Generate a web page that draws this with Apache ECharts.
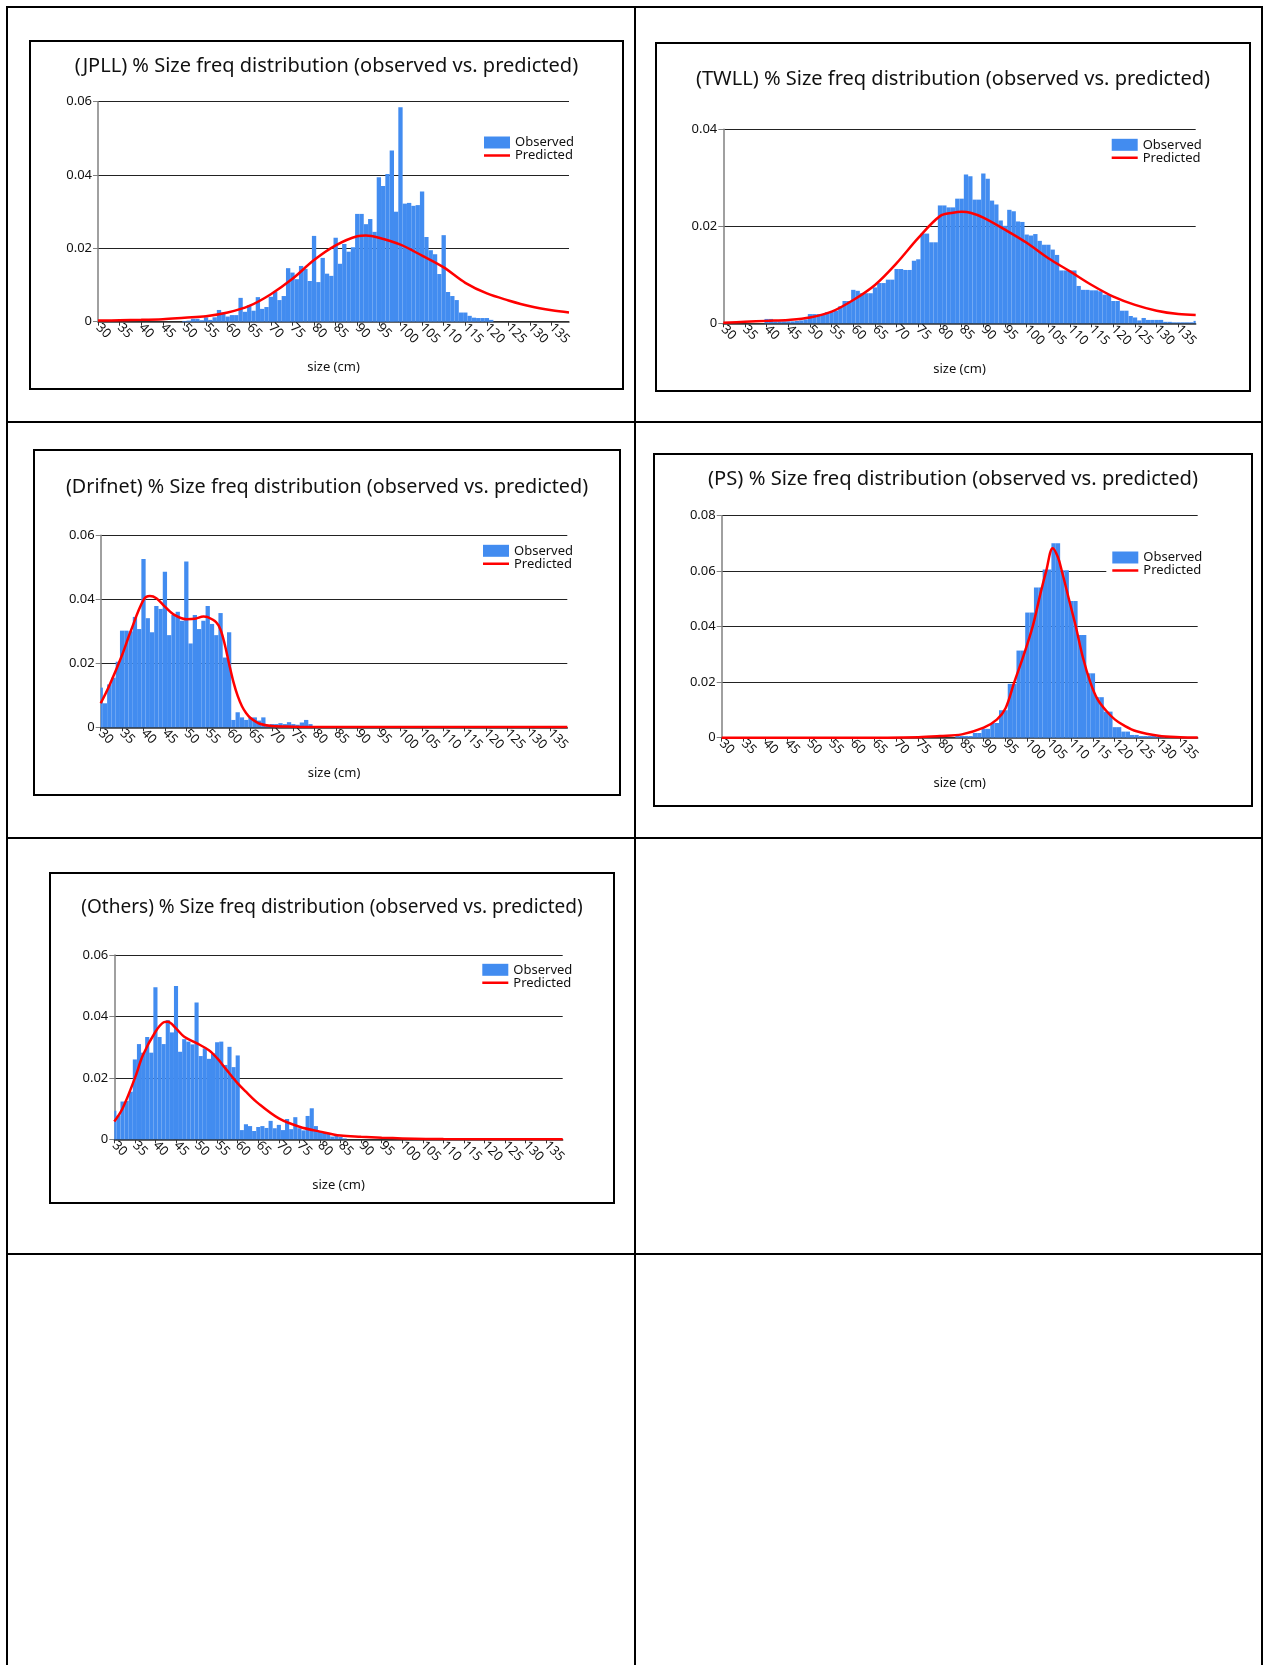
<!DOCTYPE html>
<html><head><meta charset="utf-8">
<script src="https://cdn.jsdelivr.net/npm/echarts@6/dist/echarts.min.js"></script>
<style>
html,body{margin:0;padding:0;background:#fff;}
body{width:1265px;height:1665px;position:relative;overflow:hidden;}
.ln{position:absolute;background:#000;}
.box{position:absolute;border:2px solid #000;box-sizing:border-box;}
.chart{position:absolute;}
</style></head><body>
<div class="ln" style="left:6px;top:6px;width:2px;height:1659px"></div>
<div class="ln" style="left:634px;top:6px;width:2px;height:1659px"></div>
<div class="ln" style="left:1261px;top:6px;width:2px;height:1659px"></div>
<div class="ln" style="left:6px;top:6px;width:1257px;height:2px"></div>
<div class="ln" style="left:6px;top:421px;width:1257px;height:2px"></div>
<div class="ln" style="left:6px;top:837px;width:1257px;height:2px"></div>
<div class="ln" style="left:6px;top:1253px;width:1257px;height:2px"></div>
<script>
// ---------- DATA ----------
const sizes = [30,31,32,33,34,35,36,37,38,39,40,41,42,43,44,45,46,47,48,49,50,51,52,53,54,55,56,57,58,59,
60,61,62,63,64,65,66,67,68,69,70,71,72,73,74,75,76,77,78,79,80,81,82,83,84,85,86,87,88,89,
90,91,92,93,94,95,96,97,98,99,100,101,102,103,104,105,106,107,108,109,110,111,112,113,114,115,116,117,118,119,
120,121,122,123,124,125,126,127,128,129,130,131,132,133,134,135,136,137,138,139];
const xTickLabels = [30,35,40,45,50,55,60,65,70,75,80,85,90,95,100,105,110,115,120,125,130,135];

const jpllObserved = [
0,0,0,0,0,0,0,0,0,0,
0,0,0,0,0,0,0,0,0,0,
0.0002,0.0003,0.0008,0.0008,0.0004,0.0012,0.0005,0.0012,0.0032,0.0025,
0.0014,0.0018,0.0018,0.0065,0.0027,0.0045,0.003,0.0067,0.0035,0.004,
0.0068,0.0082,0.0059,0.007,0.0146,0.0134,0.0116,0.0152,0.0144,0.0111,
0.0234,0.0108,0.0174,0.0131,0.0125,0.0229,0.0158,0.0212,0.0191,0.0203,
0.0294,0.0294,0.0266,0.028,0.0245,0.0394,0.037,0.0403,0.0467,0.030,
0.0585,0.0322,0.0324,0.0316,0.0318,0.0355,0.0231,0.0195,0.0184,0.013,
0.0236,0.0081,0.007,0.0059,0.0025,0.0025,0.0016,0.0011,0.001,0.001,
0.001,0.0005,0,0,0,0,0,0,0,0,
0,0,0,0,0,0,0,0,0,0];
const jpllPredX = [30,35,40,45,50,55,60,65,70,75,80,85,90,92,95,100,105,110,115,120,125,130,135,139];
const jpllPredY = [0.0003,0.0004,0.0005,0.0007,0.0011,0.0015,0.0025,0.0043,0.0075,0.0117,0.0168,0.0208,0.0233,0.0235,0.0229,0.021,0.018,0.0148,0.0106,0.0077,0.0058,0.0042,0.0031,0.0025];

const twllObserved = [
0,0,0,0,0,0,0,0,0,0,
0.0009,0.0009,0.0004,0.0004,0.0004,0.0004,0.0004,0.0005,0.0006,0.0008,
0.0019,0.0019,0.0019,0.0019,0.0023,0.0023,0.0026,0.0035,0.0046,0.0046,
0.0069,0.0067,0.0062,0.0062,0.0062,0.0074,0.0083,0.0083,0.009,0.009,
0.0112,0.0112,0.011,0.011,0.0129,0.0132,0.0185,0.0185,0.0167,0.0167,
0.0243,0.0243,0.0239,0.0239,0.0257,0.0257,0.0307,0.0303,0.0255,0.0255,
0.0309,0.0298,0.0253,0.0245,0.0212,0.0201,0.0234,0.0231,0.021,0.0209,
0.0183,0.0181,0.0184,0.017,0.0162,0.0162,0.0152,0.0141,0.0109,0.0109,
0.0109,0.0109,0.0077,0.0069,0.0069,0.0068,0.0068,0.0066,0.0059,0.0059,
0.0046,0.0046,0.0026,0.0026,0.0015,0.0012,0.0006,0.0011,0.0007,0.0007,
0.0007,0.0007,0.0003,0.0003,0.0002,0.0002,0.0002,0.0002,0.0002,0.0005];
const twllPredX = [30,35,40,45,50,55,60,65,70,75,80,83,85,87,90,95,100,105,110,115,120,125,130,135,139];
const twllPredY = [0.0001,0.0003,0.0005,0.0007,0.0012,0.0024,0.0048,0.0079,0.0124,0.0176,0.0221,0.0228,0.023,0.0228,0.0218,0.0193,0.0166,0.0134,0.0107,0.0079,0.0055,0.0038,0.0026,0.0019,0.0017];

const drifnetObserved = [
0.0124,0.0075,0.0134,0.0155,0.0205,0.0302,0.0302,0.030,0.0345,0.0307,
0.0526,0.0341,0.0297,0.0379,0.037,0.0486,0.0288,0.0351,0.0361,0.0333,
0.0518,0.0262,0.0351,0.0307,0.0333,0.0379,0.0323,0.0288,0.0357,0.0218,
0.0297,0.0023,0.0047,0.0031,0.0023,0.0031,0.0031,0.0021,0.0031,0.0005,
0.001,0.001,0.0013,0.001,0.0016,0.001,0.0008,0.0015,0.0023,0.001,
0.0002,0.0002,0.0002,0.0002,0.0002,0,0,0,0,0,
0,0,0,0,0,0,0,0,0,0,
0,0,0,0,0,0,0,0,0,0,
0,0,0,0,0,0,0,0,0,0,
0,0,0,0,0,0,0,0,0,0,
0,0,0,0,0,0,0,0,0,0];
const drifnetPredX = [30,32,35,37,40,41.5,43,45,47,50,52,54,55,57,58,59,60,61,62,63,64,65,67,70,75,80,90,100,139];
const drifnetPredY = [0.0075,0.013,0.0226,0.03,0.0398,0.041,0.0403,0.0377,0.0353,0.0338,0.0339,0.0346,0.0344,0.0328,0.0305,0.0258,0.0198,0.0142,0.0098,0.0066,0.0044,0.0029,0.0012,0.0004,0.0002,0.0001,0.0001,0.0001,0.0001];

const psObserved = [
0,0,0,0,0,0,0,0,0,0,
0,0,0,0,0,0,0,0,0,0,
0,0,0,0,0,0,0,0,0,0,
0,0,0,0,0,0,0,0,0,0,
0,0,0,0,0,0,0,0,0,0,
0,0,0,0,0.0006,0.0006,0.0006,0.0006,0.0017,0.0017,
0.0032,0.0032,0.0053,0.0053,0.0099,0.0099,0.0194,0.0194,0.0314,0.0314,
0.0451,0.0451,0.0541,0.0541,0.0606,0.0606,0.0701,0.0701,0.0603,0.0603,
0.0493,0.0493,0.037,0.037,0.0232,0.0232,0.0146,0.0146,0.0094,0.0094,
0.0038,0.0038,0.0022,0.0022,0.001,0.001,0.0006,0.0006,0.0006,0.0006,
0.0002,0.0002,0,0,0,0,0,0,0,0];
const psPredX = [30,60,75,80,85,90,93,95,97,99,101.2,103,104.3,105.8,107,107.9,109.5,111.1,112.7,114.4,116,118,120,122,125,130,135,139];
const psPredY = [0,0,0.0002,0.0006,0.0012,0.0036,0.0065,0.0106,0.02,0.029,0.04,0.052,0.06,0.0683,0.065,0.06,0.05,0.04,0.029,0.02,0.014,0.0098,0.0066,0.0045,0.0023,0.0007,0.0002,0.0001];

const othersObserved = [
0.0093,0.0077,0.0123,0.0125,0.0155,0.026,0.031,0.0282,0.0333,0.0282,
0.0495,0.0333,0.031,0.0388,0.0348,0.0499,0.0285,0.0326,0.0318,0.0309,
0.0445,0.0271,0.0296,0.0262,0.028,0.0316,0.0318,0.0242,0.0301,0.0235,
0.0273,0.003,0.0049,0.0043,0.0027,0.004,0.0043,0.0037,0.006,0.0036,
0.0047,0.003,0.0066,0.0033,0.0072,0.0036,0.0029,0.0076,0.0101,0.0043,
0.0025,0.0023,0.002,0.0009,0.0012,0.0008,0.0003,0,0,0,
0,0,0,0,0,0,0,0,0,0,
0,0,0,0,0,0,0,0,0,0,
0,0,0,0,0,0,0,0,0,0,
0,0,0,0,0,0,0,0,0,0,
0,0,0,0,0,0,0,0,0,0];
const othersPredX = [30,32,35,37,40,42,43,45,47,50,53,55,57,60,62,65,70,75,80,85,90,95,100,110,139];
const othersPredY = [0.0058,0.01,0.0199,0.0275,0.035,0.0381,0.0383,0.0361,0.0334,0.0313,0.029,0.0264,0.0231,0.0182,0.0155,0.0117,0.0068,0.0041,0.0025,0.0012,0.0008,0.0005,0.0003,0.0001,0];

// ---------- LAYOUT ----------
const panels = [
 {title:'(JPLL) % Size freq distribution (observed vs. predicted)', obs:jpllObserved, px:jpllPredX, py:jpllPredY, yMax:0.06,
  box:[29,40,595,350], grid:[69,61.7,471,220], titleTop:16, legend:[455,96]},
 {title:'(TWLL) % Size freq distribution (observed vs. predicted)', obs:twllObserved, px:twllPredX, py:twllPredY, yMax:0.04,
  box:[655,42,596,350], grid:[68.3,87.3,472.4,194], titleTop:27.7, legend:[456.7,96.3]},
 {title:'(Drifnet) % Size freq distribution (observed vs. predicted)', obs:drifnetObserved, px:drifnetPredX, py:drifnetPredY, yMax:0.06,
  box:[33,449,588,347], grid:[67.7,86.3,466.6,192], titleTop:28.7, legend:[450,95.3]},
 {title:'(PS) % Size freq distribution (observed vs. predicted)', obs:psObserved, px:psPredX, py:psPredY, yMax:0.08,
  box:[653,453,600,354], grid:[68.7,62.7,476,222], titleTop:16, legend:[459.3,98]},
 {title:'(Others) % Size freq distribution (observed vs. predicted)', obs:othersObserved, px:othersPredX, py:othersPredY, yMax:0.06,
  box:[49,872,566,332], grid:[65.3,83,448.4,184.3], titleTop:26.5, legend:[433.3,91.3]}
];

const FONT = 'Noto Sans';
const BLUE = '#428cf0';
const RED = '#ff0000';
const LINE_ICON = 'path://M0,0L0.01,0M0,12L0.01,12M0,4.8L26,4.8L26,7.3L0,7.3Z';

function renderBar(params, api) {
  const c = api.value(0), v = api.value(1);
  if (!v) return null;
  const p0 = api.coord([c - 0.5, 0]);
  const p1 = api.coord([c + 0.5, v]);
  const cs = params.coordSys;
  const shape = echarts.graphic.clipRectByRect(
    {x: p0[0], y: p1[1], width: p1[0] - p0[0], height: p0[1] - p1[1]},
    {x: cs.x, y: cs.y, width: cs.width, height: cs.height});
  return shape && {type: 'rect', shape: shape, style: {fill: BLUE}};
}

panels.forEach(function (p) {
  const box = document.createElement('div');
  box.className = 'box';
  box.style.cssText = 'left:'+p.box[0]+'px;top:'+p.box[1]+'px;width:'+p.box[2]+'px;height:'+p.box[3]+'px';
  document.body.appendChild(box);
  const el = document.createElement('div');
  el.className = 'chart';
  el.style.cssText = 'left:'+p.box[0]+'px;top:'+p.box[1]+'px;width:'+p.box[2]+'px;height:'+p.box[3]+'px';
  document.body.appendChild(el);
  const titleSize = 20 * p.box[2] / 595;
  const chart = echarts.init(el, null, {renderer: 'canvas'});
  chart.setOption({
    animation: false,
    textStyle: {fontFamily: FONT},
    title: {text: p.title, left: 'center', top: p.titleTop, padding: 0,
      textStyle: {fontFamily: FONT, fontSize: titleSize, fontWeight: 'normal', color: '#111'}},
    legend: {orient: 'vertical', left: p.legend[0] - 6, top: p.legend[1] - 1, padding: [1, 4, 1, 6], itemGap: 0,
      backgroundColor: '#fff',
      itemWidth: 26, itemHeight: 12, selectedMode: false,
      textStyle: {fontFamily: FONT, fontSize: 13, color: '#111', lineHeight: 12},
      data: [{name: 'Observed', icon: 'rect'}, {name: 'Predicted', icon: LINE_ICON}]},
    grid: {left: p.grid[0], top: p.grid[1], width: p.grid[2], height: p.grid[3]},
    xAxis: {type: 'value', min: 30, max: 139,
      name: 'size (cm)', nameLocation: 'middle', nameGap: 39.5,
      nameTextStyle: {fontFamily: FONT, fontSize: 13, color: '#111'},
      axisLine: {show: true, lineStyle: {color: '#333', width: 1.5}},
      axisTick: {show: true, length: 4, customValues: xTickLabels, lineStyle: {color: '#333'}},
      axisLabel: {customValues: xTickLabels, rotate: -45, fontSize: 13, margin: 4, color: '#111', fontFamily: FONT},
      splitLine: {show: false}},
    yAxis: {type: 'value', min: 0, max: p.yMax, interval: 0.02,
      axisLine: {show: true, lineStyle: {color: '#808080', width: 1.5}},
      axisTick: {show: true, length: 5, lineStyle: {color: '#808080'}},
      axisLabel: {fontSize: 13, margin: 6, color: '#111', fontFamily: FONT},
      splitLine: {show: true, lineStyle: {color: '#222', width: 1}}},
    series: [
      {type: 'custom', name: 'Observed', renderItem: renderBar, itemStyle: {color: BLUE},
       encode: {x: 0, y: 1}, data: sizes.map(function (s, i) { return [s, p.obs[i]]; }), z: 2},
      {type: 'line', name: 'Predicted', smooth: 0.35, symbol: 'none', showSymbol: false,
       lineStyle: {color: RED, width: 2.5}, itemStyle: {color: RED},
       data: p.px.map(function (x, i) { return [x, p.py[i]]; }), z: 3}
    ]
  });
});
</script>
</body></html>
